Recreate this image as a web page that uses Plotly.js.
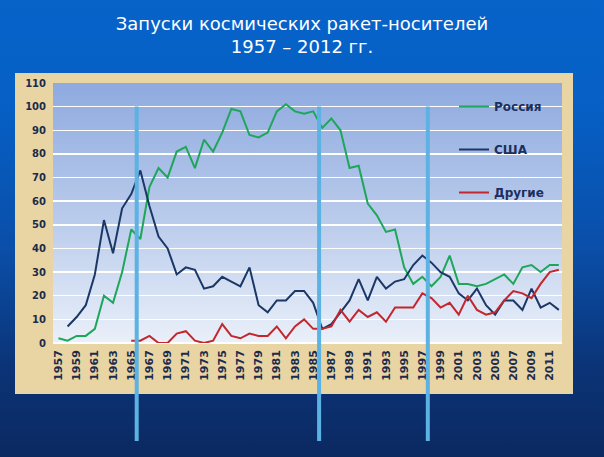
<!DOCTYPE html>
<html>
<head>
<meta charset="utf-8">
<meta name="color-scheme" content="only light">
<script src="https://cdn.plot.ly/plotly-3.0.1.min.js"></script>
<style>
  :root { color-scheme: only light; }
  html, body { margin: 0; padding: 0; }
  #launches {
    width: 604px; height: 457px;
    background: linear-gradient(to bottom, #0763c9 0%, #0660c6 22%, #0a4ea8 55%, #0b3477 80%, #0b2961 100%);
  }
</style>
</head>
<body>
<div id="launches"></div>
<script>
// launches per year
var years = [1957, 1958, 1959, 1960, 1961, 1962, 1963, 1964, 1965, 1966,
  1967, 1968, 1969, 1970, 1971, 1972, 1973, 1974, 1975, 1976,
  1977, 1978, 1979, 1980, 1981, 1982, 1983, 1984, 1985, 1986,
  1987, 1988, 1989, 1990, 1991, 1992, 1993, 1994, 1995, 1996,
  1997, 1998, 1999, 2000, 2001, 2002, 2003, 2004, 2005, 2006,
  2007, 2008, 2009, 2010, 2011, 2012];
var russia = [2, 1, 3, 3, 6, 20, 17, 30, 48, 44,
  66, 74, 70, 81, 83, 74, 86, 81, 89, 99,
  98, 88, 87, 89, 98, 101, 98, 97, 98, 91,
  95, 90, 74, 75, 59, 54, 47, 48, 32, 25,
  28, 24, 28, 37, 25, 25, 24, 25, 27, 29,
  25, 32, 33, 30, 33, 33];
var usa = [null, 7, 11, 16, 29, 52, 38, 57, 63, 73,
  58, 45, 40, 29, 32, 31, 23, 24, 28, 26,
  24, 32, 16, 13, 18, 18, 22, 22, 17, 6,
  8, 13, 18, 27, 18, 28, 23, 26, 27, 33,
  37, 34, 30, 28, 21, 18, 23, 16, 12, 18,
  18, 14, 23, 15, 17, 14];
var others = [null, null, null, null, null, null, null, null, 1, 1,
  3, 0, 0, 4, 5, 1, 0, 1, 8, 3,
  2, 4, 3, 3, 7, 2, 7, 10, 6, 6,
  7, 14, 9, 14, 11, 13, 9, 15, 15, 15,
  21, 19, 15, 17, 12, 20, 14, 12, 13, 18,
  22, 21, 19, 25, 30, 31];

var seriesNames = ['Россия', 'США', 'Другие'];
var seriesColors = ['#1ea65a', '#1a3766', '#c3262c'];

// labelled years on the x axis (every second one)
var tickYears = [];
for (var y = 1957; y <= 2011; y += 2) tickYears.push(y);

// borders between the four periods and their captions
var periodBreaks = [1965.6, 1985.65, 1997.6];
var periodNames = ['1 период', '2 период', '3 период', '4 период'];

// plot box in pixels, used to place the frame and captions
var W = 604, H = 457;
var L = 53, R = 562, T = 83, B = 343;
var xRange = [1956.4, 2012.35], yRange = [0, 110];
function px(x) { return (x - L) / (R - L); }
function py(y) { return (B - y) / (B - T); }
function yearX(yr) { return (yr - xRange[0]) / (xRange[1] - xRange[0]); }
// pixel -> axis value, for the captions drawn as a text trace
function dataX(p) { return xRange[0] + (p - L) / (R - L) * (xRange[1] - xRange[0]); }
function dataY(p) { return yRange[0] + (B - p) / (B - T) * (yRange[1] - yRange[0]); }

// blue-to-white plot background
var bgSvg = "<svg xmlns='http://www.w3.org/2000/svg' width='100' height='100' viewBox='0 0 100 100' preserveAspectRatio='none'>" +
  "<defs><linearGradient id='g' x1='0' y1='0' x2='0' y2='1'>" +
  "<stop offset='0' stop-color='#8eaadf'/><stop offset='0.55' stop-color='#bccdec'/><stop offset='1' stop-color='#eaf0f9'/>" +
  "</linearGradient></defs><rect width='100' height='100' fill='url(#g)'/></svg>";

var serieValues = [russia, usa, others];
var data = seriesNames.map(function (name, i) {
  return {
    x: years,
    y: serieValues[i],
    name: name,
    type: 'scatter',
    mode: 'lines',
    legendgroup: name,
    line: {color: seriesColors[i], width: 2},
    hoverinfo: 'skip'
  };
});

// period captions under the chart, outside the axes
var captionX = [70, 232, 376, 518];
data.push({
  x: captionX.map(dataX),
  y: captionX.map(function () { return dataY(423); }),
  text: periodNames,
  type: 'scatter',
  mode: 'text',
  cliponaxis: false,
  showlegend: false,
  hoverinfo: 'skip',
  textposition: 'middle center',
  textfont: {family: 'DejaVu Sans', size: 17, weight: 'bold', color: '#2de83a'}
});

// tan frame round the plot box (outer rect minus the plot area)
var tan = '#e9d5a3';
var fx0 = px(15), fx1 = px(573), fyTop = py(73), fyBot = py(394);
var framePath = 'M' + fx0 + ',' + fyBot + ' L' + fx1 + ',' + fyBot + ' L' + fx1 + ',' + fyTop +
  ' L' + fx0 + ',' + fyTop + ' Z M0,0 L1,0 L1,1 L0,1 Z';

var shapes = [{
  type: 'path', layer: 'below', xref: 'paper', yref: 'paper',
  path: framePath, fillrule: 'evenodd',
  fillcolor: tan, line: {width: 0}
}];

periodBreaks.forEach(function (yr) {
  shapes.push({
    type: 'line', layer: 'above',
    xref: 'paper', yref: 'paper',
    x0: yearX(yr), x1: yearX(yr), y0: py(441), y1: py(106.6),
    line: {color: '#5cb2e2', width: 4}
  });
});

var layout = {
  width: W,
  height: H,
  margin: {l: L, r: W - R, t: T, b: H - B, pad: 0},
  paper_bgcolor: 'rgba(0,0,0,0)',
  plot_bgcolor: 'rgba(0,0,0,0)',
  title: {
    text: 'Запуски космических ракет-носителей<br>1957 – 2012 гг.',
    x: 0.5, xref: 'container', xanchor: 'center',
    y: 1 - 29.5 / H, yref: 'container', yanchor: 'middle',
    font: {family: 'DejaVu Sans', size: 18, color: '#ffffff'}
  },
  xaxis: {
    range: xRange,
    tickmode: 'array',
    tickvals: tickYears,
    ticktext: tickYears.map(String),
    tickangle: -90,
    ticks: '',
    ticklabelstandoff: 4,
    showgrid: false,
    zeroline: false,
    showline: false,
    tickfont: {family: 'DejaVu Sans', size: 11, weight: 'bold', color: '#1c2a4c'}
  },
  yaxis: {
    range: yRange,
    dtick: 10,
    ticks: '',
    ticklabelstandoff: 6,
    showgrid: true,
    gridcolor: '#ffffff',
    gridwidth: 1.5,
    zeroline: true,
    zerolinecolor: '#ffffff',
    zerolinewidth: 1.5,
    showline: false,
    tickfont: {family: 'DejaVu Sans', size: 10, weight: 'bold', color: '#1c2a4c'}
  },
  showlegend: true,
  legend: {
    x: px(454), y: py(92), xanchor: 'left', yanchor: 'top',
    bgcolor: 'rgba(0,0,0,0)',
    borderwidth: 0,
    tracegroupgap: 24,
    font: {family: 'DejaVu Sans', size: 12, weight: 'bold', color: '#1b2f5e'}
  },
  images: [
    {source: 'data:image/svg+xml;base64,' + btoa(bgSvg), xref: 'paper', yref: 'paper',
      x: 0, y: 1, sizex: 1, sizey: 1,
      xanchor: 'left', yanchor: 'top', sizing: 'stretch', layer: 'below'}
  ],
  shapes: shapes
};

Plotly.newPlot('launches', data, layout, {displayModeBar: false, staticPlot: true});
</script>
</body>
</html>
